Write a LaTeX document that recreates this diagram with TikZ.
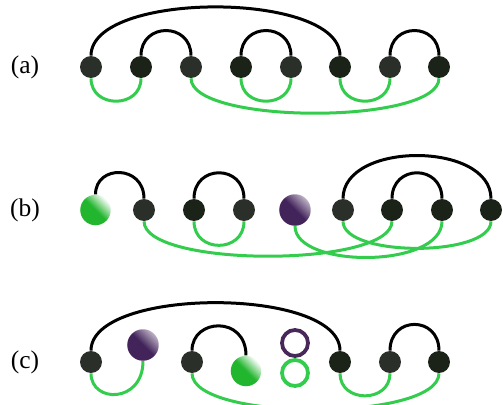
\documentclass[tikz,border=0pt]{standalone}
\usepackage{fontspec}
\setmainfont{Liberation Serif}
\usepackage{tikz}
\usetikzlibrary{positioning, calc}
\definecolor{nodelight}{RGB}{43,47,42}
\definecolor{nodedark}{RGB}{27,34,24}
\definecolor{arcgreen}{RGB}{51,204,77}
\definecolor{ballgreen}{RGB}{34,181,46}
\definecolor{ballpurple}{RGB}{66,35,90}
\definecolor{ringpurple}{RGB}{72,40,90}
\tikzset{
	dot/.style={circle, inner sep=0pt, minimum size=4.4mm},
	dotlight/.style={dot, fill=nodelight},
	dotdark/.style={dot, fill=nodedark},
	greenball/.style={circle, inner sep=0pt, minimum size=6.1mm, top color=white, bottom color=ballgreen, middle color=ballgreen, shading angle=-45},
	purpleball/.style={circle, inner sep=0pt, minimum size=6.3mm, top color=ballpurple!35!white, bottom color=ballpurple, middle color=ballpurple, shading angle=-45},
	ring/.style={circle, inner sep=0pt, minimum size=5.2mm, line width=0.075cm},
	blackarc/.style={line width=0.06cm, black},
	greenarc/.style={line width=0.06cm, arcgreen},
	rowlabel/.style={font=\fontsize{14.5}{17}\selectfont}
}

\begin{document}
\begin{tikzpicture}

	\clip (0,0) rectangle (10.06,8.1);

	% row (a)
	\node [rowlabel] (la) at (0.5,6.76) {(a)};
	\node [dotlight] (a1) at (1.82,6.76) {};
	\node [dotdark]  (a2) at (2.82,6.76) {};
	\node [dotlight] (a3) at (3.82,6.76) {};
	\node [dotdark]  (a4) at (4.82,6.76) {};
	\node [dotlight] (a5) at (5.82,6.76) {};
	\node [dotdark]  (a6) at (6.80,6.76) {};
	\node [dotlight] (a7) at (7.80,6.76) {};
	\node [dotdark]  (a8) at (8.78,6.76) {};

	\draw [blackarc] (a1.north) .. controls +(0,1.3) and +(0,1.3) .. (a6.north);
	\draw [blackarc] (a2.north) .. controls +(0,0.67) and +(0,0.67) .. (a3.north);
	\draw [blackarc] (a4.north) .. controls +(0,0.67) and +(0,0.67) .. (a5.north);
	\draw [blackarc] (a7.north) .. controls +(0,0.67) and +(0,0.67) .. (a8.north);

	\draw [greenarc] (a1.south) .. controls +(0,-0.61) and +(0,-0.61) .. (a2.south);
	\draw [greenarc] (a3.south) .. controls +(0,-0.93) and +(0,-0.93) .. (a8.south);
	\draw [greenarc] (a4.south) .. controls +(0,-0.61) and +(0,-0.61) .. (a5.south);
	\draw [greenarc] (a6.south) .. controls +(0,-0.61) and +(0,-0.61) .. (a7.south);

	% row (b)
	\node [rowlabel] (lb) at (0.5,3.9) {(b)};
	\node [greenball]  (b1) at (1.91,3.9) {};
	\node [dotlight]   (b2) at (2.88,3.9) {};
	\node [dotdark]    (b3) at (3.88,3.9) {};
	\node [dotlight]   (b4) at (4.88,3.9) {};
	\node [purpleball] (b5) at (5.90,3.9) {};
	\node [dotlight]   (b6) at (6.86,3.9) {};
	\node [dotdark]    (b7) at (7.84,3.9) {};
	\node [dotdark]    (b8) at (8.84,3.9) {};
	\node [dotdark]    (b9) at (9.82,3.9) {};

	\draw [blackarc] (b1.north) .. controls +(0,0.6) and +(0,0.68) .. (b2.north);
	\draw [blackarc] (b3.north) .. controls +(0,0.69) and +(0,0.69) .. (b4.north);
	\draw [blackarc] (b6.north) .. controls +(0,1.15) and +(0,1.15) .. (b9.north);
	\draw [blackarc] (b7.north) .. controls +(0,0.69) and +(0,0.69) .. (b8.north);

	\draw [greenarc] (b2.south) .. controls +(0,-0.93) and +(0,-0.93) .. (b7.south);
	\draw [greenarc] (b3.south) .. controls +(0,-0.64) and +(0,-0.64) .. (b4.south);
	\draw [greenarc] (b5.south) .. controls +(0,-0.85) and +(0,-0.95) .. (b8.south);
	\draw [greenarc] (b6.south) .. controls +(0,-0.72) and +(0,-0.72) .. (b9.south);

	% row (c)
	\node [rowlabel] (lc) at (0.5,0.86) {(c)};
	\node [dotlight]   (c1) at (1.82,0.86) {};
	\node [purpleball] (c2) at (2.86,1.2) {};
	\node [dotlight]   (c3) at (3.84,0.86) {};
	\node [greenball]  (c4) at (4.92,0.68) {};
	\node [ring, draw=ringpurple] (rp) at (5.9,1.24) {};
	\node [ring, draw=arcgreen]   (rg) at (5.9,0.64) {};
	\node [dotdark]    (c5) at (6.80,0.86) {};
	\node [dotlight]   (c6) at (7.80,0.86) {};
	\node [dotdark]    (c7) at (8.78,0.86) {};

	\draw [blackarc] (c1.north) .. controls +(0,1.28) and +(0,1.28) .. (c5.north);
	\draw [blackarc] (c3.north) .. controls +(0,0.65) and +(0,0.8) .. (c4.north);
	\draw [blackarc] (c6.north) .. controls +(0,0.7) and +(0,0.7) .. (c7.north);

	\draw [greenarc] (c1.south) .. controls +(0,-0.6) and +(0,-0.85) .. (c2.south);
	\draw [greenarc] (c3.south) .. controls +(0,-0.97) and +(0,-0.97) .. (c7.south);
	\draw [greenarc] (c5.south) .. controls +(0,-0.6) and +(0,-0.6) .. (c6.south);

\end{tikzpicture}
\end{document}
